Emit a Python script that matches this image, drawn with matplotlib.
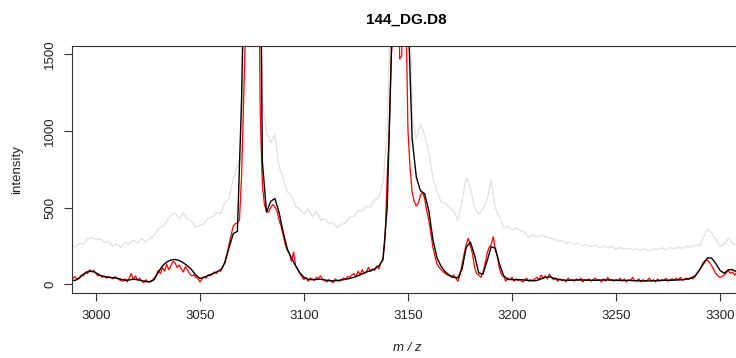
import numpy as np
import matplotlib
matplotlib.use("Agg")
import matplotlib.pyplot as plt

plt.rcParams["font.family"] = ["Liberation Sans", "DejaVu Sans"]

# m/z grids
mz_2 = np.arange(2988, 3309, 2)   # raw + smoothed, every 2 units
mz_1 = np.arange(2988, 3309, 1)   # baseline-corrected, every unit

# raw spectrum (light grey)
raw = [
    270, 240, 268, 262, 295, 305, 290, 300, 272, 282,
    250, 262, 240, 275, 262, 290, 268, 298, 276, 300,
    318, 360, 375, 410, 448, 465, 430, 462, 425, 410,
    372, 385, 395, 430, 440, 468, 460, 535, 560, 690,
    770, 840, 2500, 5000, 6000, 4000, 1200, 990, 925, 975,
    770, 690, 600, 580, 505, 490, 460, 490, 440, 475,
    420, 425, 395, 405, 370, 390, 400, 440, 445, 480,
    475, 510, 505, 550, 565, 660, 1000, 2000, 5000, 6000,
    5500, 2800, 1100, 950, 1045, 975, 860, 690, 600, 535,
    530, 495, 480, 415, 545, 695, 630, 505, 455, 490,
    550, 680, 495, 440, 370, 380, 355, 368, 350, 340,
    305, 325, 308, 318, 312, 302, 295, 280, 285, 268,
    275, 258, 270, 250, 262, 245, 255, 240, 250, 236,
    245, 230, 240, 226, 236, 224, 232, 220, 230, 218,
    232, 225, 238, 224, 242, 230, 240, 235, 248, 242,
    255, 252, 305, 360, 335, 295, 245, 265, 300, 268,
    258,
]

# smoothed spectrum (black)
smooth = [
    25, 25, 40, 65, 82, 86, 75, 58, 50, 46,
    42, 40, 33, 26, 28, 33, 30, 24, 18, 15,
    30, 80, 120, 145, 158, 162, 155, 140, 120, 95,
    60, 38, 45, 58, 68, 80, 95, 140, 240, 330,
    345, 1200, 2600, 5000, 6000, 4000, 800, 470, 540, 560,
    470, 340, 230, 170, 120, 75, 45, 32, 30, 32,
    33, 28, 24, 22, 24, 28, 32, 38, 45, 55,
    68, 80, 88, 100, 120, 160, 500, 1500, 4000, 6000,
    5000, 1800, 950, 700, 610, 590, 480, 290, 170, 115,
    80, 58, 45, 42, 100, 240, 275, 190, 75, 65,
    150, 245, 235, 130, 55, 32, 30, 30, 30, 28,
    25, 22, 25, 35, 45, 48, 40, 32, 28, 26,
    26, 27, 28, 28, 27, 26, 26, 27, 28, 28,
    27, 26, 25, 25, 25, 24, 23, 22, 22, 22,
    23, 24, 25, 26, 26, 27, 28, 30, 33, 40,
    55, 90, 140, 172, 170, 135, 90, 72, 95, 95,
    80,
]

# baseline-corrected spectrum (red)
corrected = [
    55, 40, 50, 30, 45, 60, 55, 80, 70, 95,
    80, 90, 70, 55, 60, 45, 55, 40, 50, 45,
    35, 50, 40, 30, 25, 20, 35, 15, 40, 70,
    30, 55, 25, 40, 20, 10, 30, 15, 20, 25,
    40, 60, 90, 70, 110, 85, 130, 95, 120, 150,
    140, 110, 125, 100, 80, 115, 95, 70, 55, 60,
    45, 40, 15, 35, 50, 40, 60, 55, 65, 80,
    70, 90, 85, 110, 150, 200, 260, 320, 380, 395,
    400, 420, 700, 1200, 1700, 3000, 5000, 6000, 6500, 5500,
    2500, 1100, 650, 520, 480, 470, 500, 520, 505, 480,
    420, 380, 320, 260, 220, 200, 150, 210, 120, 100,
    70, 50, 30, 45, 20, 40, 35, 25, 45, 40,
    55, 30, 25, 15, 30, 20, 10, 35, 25, 20,
    30, 40, 35, 50, 45, 60, 70, 50, 85, 60,
    95, 70, 80, 110, 85, 100, 90, 120, 100, 140,
    170, 300, 700, 1000, 1500, 1650, 3500, 2500, 1470, 1490,
    2400, 1800, 1000, 760, 600, 540, 510, 530, 580, 600,
    560, 480, 420, 330, 240, 180, 130, 110, 95, 80,
    70, 60, 55, 45, 60, 40, 20, 60, 130, 200,
    260, 300, 250, 200, 110, 70, 60, 45, 75, 130,
    200, 240, 260, 310, 220, 180, 100, 60, 50, 20,
    40, 30, 45, 20, 35, 25, 30, 15, 25, 40,
    20, 30, 25, 35, 45, 30, 60, 40, 55, 35,
    65, 45, 30, 40, 20, 35, 25, 30, 15, 40,
    25, 30, 20, 35, 25, 40, 15, 30, 25, 35,
    20, 30, 40, 25, 30, 15, 35, 20, 45, 25,
    30, 20, 30, 25, 40, 20, 35, 15, 30, 25,
    45, 20, 25, 35, 15, 30, 20, 25, 40, 20,
    30, 15, 35, 20, 30, 25, 40, 20, 30, 35,
    25, 40, 30, 45, 25, 35, 40, 30, 45, 35,
    50, 70, 90, 110, 130, 150, 158, 140, 120, 95,
    70, 55, 45, 50, 60, 75, 90, 70, 80, 60,
    75,
]

xticks = [3000, 3050, 3100, 3150, 3200, 3250, 3300]
yticks = [0, 500, 1000, 1500]

fig = plt.figure(figsize=(7.36, 3.58), dpi=100)
ax = fig.add_axes([72 / 736, 65 / 358, 668 / 736, 247 / 358])

ax.plot(mz_2, raw, color="#e3e3e3", lw=1.0)
ax.plot(mz_1, corrected, color="#ff0000", lw=0.9)
ax.plot(mz_2, smooth, color="black", lw=1.0)

ax.set_xlim(2988.5, 3309.6)
ax.set_ylim(-57, 1554)
ax.set_xticks(xticks)
ax.set_yticks(yticks)
ax.set_xticklabels([str(t) for t in xticks], fontsize=9.5, color="#222222")
ax.set_yticklabels([str(t) for t in yticks], fontsize=9.5, color="#222222",
                   rotation=90, va="center")
ax.tick_params(axis="both", direction="out", length=6, width=0.8,
               color="#333333")
ax.tick_params(axis="x", pad=6.5)
ax.tick_params(axis="y", pad=5.5)
for spine in ax.spines.values():
    spine.set_linewidth(0.8)
    spine.set_color("#333333")
ax.spines["right"].set_visible(False)

fig.text(17 / 736, 1 - 169.5 / 358, "intensity", rotation=90,
         ha="center", va="center", fontsize=9.5, color="#222222")
fig.text(407 / 736, 1 - 348 / 358, "m / z", style="italic",
         ha="center", va="center", fontsize=9.5, color="#222222")
fig.text(406 / 736, 1 - 20 / 358, "144_DG.D8", fontweight="bold",
         ha="center", va="center", fontsize=11)

fig.savefig("out.png", dpi=100)
